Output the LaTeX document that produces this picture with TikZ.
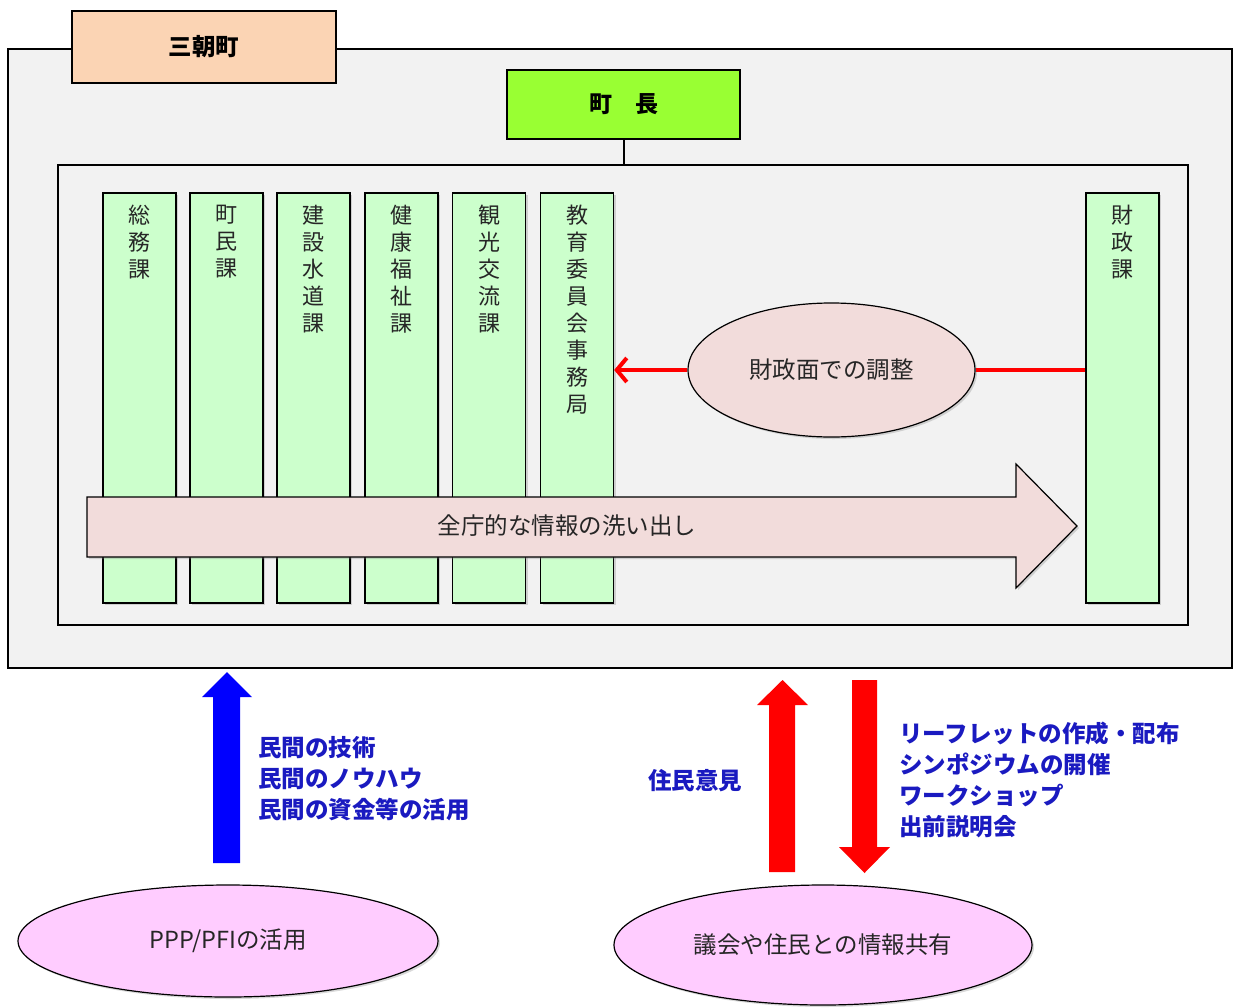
\documentclass[tikz,border=0pt]{standalone}
\usepackage{fontspec}
\setmainfont{Noto Sans CJK JP}
\newfontfamily\jp{Noto Sans CJK JP}
\usetikzlibrary{shapes.geometric,shadows,arrows.meta}
\definecolor{bggray}{HTML}{F2F2F2}
\definecolor{peach}{HTML}{FBD4B4}
\definecolor{lime}{HTML}{99FF33}
\definecolor{paleg}{HTML}{CCFFCC}
\definecolor{rosy}{HTML}{F2DCDB}
\definecolor{lilac}{HTML}{FFCCFF}
\definecolor{blueA}{HTML}{0000FF}
\definecolor{blueT}{HTML}{1A1AC0}
\definecolor{redA}{HTML}{FF0000}
\definecolor{textgray}{HTML}{262626}
\tikzset{
  shad/.style={drop shadow={shadow xshift=2pt,shadow yshift=-2pt,opacity=0.3}},
  colbox/.style={draw=black,line width=1.3pt,fill=paleg,shad},
  coltext/.style={anchor=north,align=center,font=\jp\fontsize{22}{27}\selectfont,text=textgray,inner sep=0pt},
  bluetext/.style={anchor=west,align=left,font=\jp\bfseries\fontsize{23.5}{31}\selectfont,text=blueT,inner sep=0pt},
  ell/.style={ellipse,draw=black,line width=1.2pt,inner sep=0pt,shad,font=\jp\fontsize{23.5}{26}\selectfont,text=textgray},
}
\begin{document}
\begin{tikzpicture}[x=1pt,y=-1pt]
\useasboundingbox (0,0) rectangle (1234,1007);
% outer box
\node[draw=black,line width=1.5pt,fill=bggray,minimum width=1224pt,minimum height=619pt,inner sep=0pt] (outer) at (620,358.5) {};
% town label
\node[draw=black,line width=1.5pt,fill=peach,minimum width=264pt,minimum height=72pt,inner sep=0pt,font=\jp\bfseries\fontsize{23.5}{26}\selectfont] (town) at (204,47) {三朝町};
% inner box
\node[draw=black,line width=2.6pt,fill=bggray,minimum width=1130pt,minimum height=460pt,inner sep=0pt] (inner) at (623,395) {};
% mayor
\node[draw=black,line width=2.6pt,fill=lime,minimum width=233pt,minimum height=69pt,inner sep=0pt,font=\jp\bfseries\fontsize{23}{26}\selectfont] (mayor) at (623.5,104.5) {町\hspace{1em}長};
\draw[line width=2pt] (mayor.south) -- (mayor.south |- inner.north);
% columns
\foreach \n/\x/\t in {c1/139.5/総\\務\\課, c2/226.5/町\\民\\課, c3/313.5/建\\設\\水\\道\\課, c4/401.5/健\\康\\福\\祉\\課, c5/489/観\\光\\交\\流\\課, c6/577/教\\育\\委\\員\\会\\事\\務\\局, c7/1122.5/財\\政\\課}{
  \node[colbox,minimum width=73pt,minimum height=410pt,inner sep=0pt] (\n) at (\x,398) {};
  \node[coltext] (\n t) at (\x,205) {\t};
}
% coordination ellipse
\node[ell,fill=rosy,minimum width=287pt,minimum height=134pt] (adj) at (831.5,370) {財政面での調整};
\draw[redA,line width=4pt] (c7.west |- adj.east) -- (adj.east);
\draw[redA,line width=4pt,-{Straight Barb[length=10pt,width=24pt,line width=4pt]}] (adj.west) -- (c6.east |- adj.west);
% big arrow
\draw[draw=black,line width=1.2pt,fill=rosy,shad] (87,497) -- (1016,497) -- (1016,464) -- (1077,526) -- (1016,588) -- (1016,557) -- (87,557) -- cycle;
\node[font=\jp\fontsize{23.5}{26}\selectfont,text=textgray] (wash) at (567,526) {全庁的な情報の洗い出し};
% bottom ellipses
\node[ell,fill=lilac,minimum width=420pt,minimum height=112pt] (ppp) at (228,941) {PPP/PFIの活用};
\node[ell,fill=lilac,minimum width=418pt,minimum height=120pt] (share) at (823,945) {議会や住民との情報共有};
% blue arrow
\coordinate (btip) at (227,672);
\fill[blueA] (213,863) -- (213,697) -- (202,697) -- (btip) -- (252,697) -- (240,697) -- (240,863) -- cycle;
\node[bluetext] (priv) at (258,779) {民間の技術\\民間のノウハウ\\民間の資金等の活用};
% red arrows
\coordinate (rtip) at (782.5,680);
\fill[redA] (769,872) -- (769,705) -- (757,705) -- (rtip) -- (808,705) -- (795,705) -- (795,872) -- cycle;
\coordinate (dtip) at (864.5,873);
\fill[redA] (852,680) -- (852,847) -- (839,847) -- (dtip) -- (890,847) -- (877,847) -- (877,680) -- cycle;
\node[bluetext] (opin) at (648,781) {住民意見};
\node[bluetext] (acts) at (899,780) {リーフレットの作成・配布\\シンポジウムの開催\\ワークショップ\\出前説明会};
\end{tikzpicture}
\end{document}
